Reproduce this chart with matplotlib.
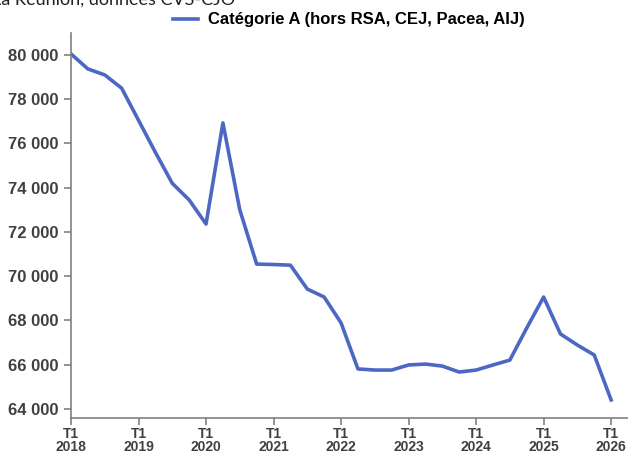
import numpy as np
import matplotlib.pyplot as plt

# quarterly values, T1 2018 -> T1 2026
quarters = list(range(33))
values = [80050, 79370, 79100, 78500, 77050, 75600, 74200, 73450, 72360,
          76930, 73000, 70550, 70530, 70500, 69420, 69060, 67890,
          65810, 65760, 65760, 65990, 66030, 65940, 65670, 65760,
          65990, 66210, 67660, 69060, 67390, 66890, 66440, 64410]
years = [2018, 2019, 2020, 2021, 2022, 2023, 2024, 2025, 2026]
yticks = [64000, 66000, 68000, 70000, 72000, 74000, 76000, 78000, 80000]
label = "Catégorie A (hors RSA, CEJ, Pacea, AIJ)"

plt.rcParams['font.family'] = ['Liberation Sans', 'DejaVu Sans']

fig = plt.figure(figsize=(6.28, 4.54), dpi=100)
ax = fig.add_axes([71/628, 36/454, 557/628, 385/454])

ax.plot(quarters, values, color='#4d68c2', lw=2.6, label=label)

ax.set_xlim(0, 33)
ax.set_ylim(63593, 80994)
ax.set_xticks([4*i for i in range(len(years))])
ax.set_xticklabels([f"T1\n{y}" for y in years], fontsize=10, fontweight='bold',
                   color='#404040', linespacing=0.9)
ax.set_yticks(yticks)
ax.set_yticklabels([f"{v:,}".replace(",", " ") for v in yticks], fontsize=12,
                   fontweight='bold', color='#404040')
ax.tick_params(axis='both', colors='#808080', labelcolor='#404040', width=1.2, length=5)
ax.tick_params(axis='y', pad=4)
ax.tick_params(axis='x', pad=1.5)
for s in ['top', 'right']:
    ax.spines[s].set_visible(False)
for s in ['left', 'bottom']:
    ax.spines[s].set_color('#808080')
    ax.spines[s].set_linewidth(1.2)

leg = fig.legend(loc='center', bbox_to_anchor=(0.555, 0.956), frameon=False,
                 prop={'weight': 'bold', 'size': 12}, handlelength=1.5, handletextpad=0.6)

fig.text(-0.012, 1.0, "La Réunion, données CVS-CJO", fontsize=13, color='#222222',
         family=['Lato', 'DejaVu Sans'], va='center', ha='left')

fig.savefig("out.png", dpi=100)
